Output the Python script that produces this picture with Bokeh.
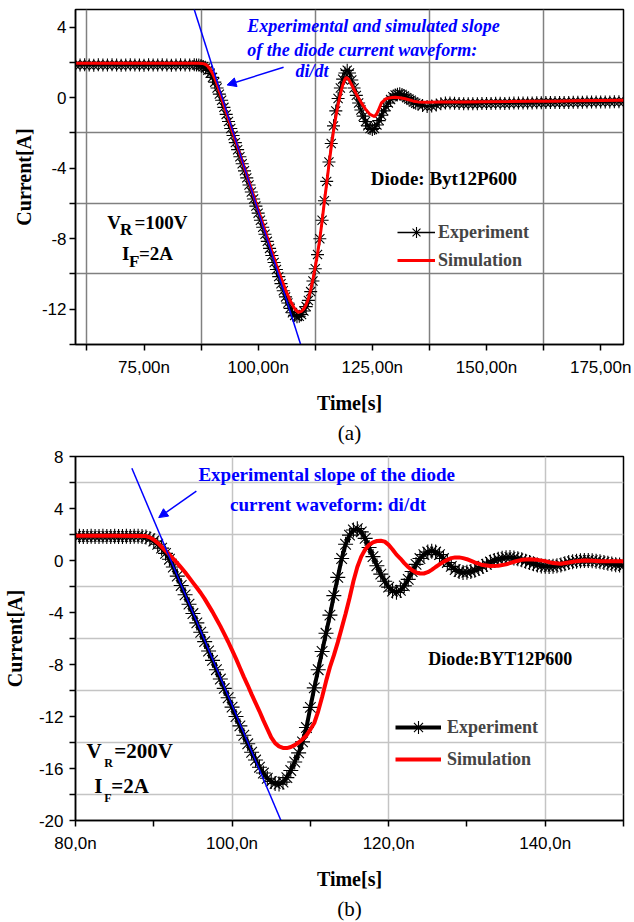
from bokeh.plotting import figure
from bokeh.models import FixedTicker, Range1d, Label, Arrow, NormalHead, Legend, LegendItem, Title
from bokeh.layouts import column
from bokeh.embed import file_html
from bokeh.resources import INLINE

# ================= DATA : panel (a)  V_R = 100 V =================
a_exp_t_flat = [60, 61, 62, 63, 64, 65, 66, 67, 68, 69, 70, 71, 72, 73, 74, 75, 76, 77, 78, 79,
                80, 81, 82, 83, 84, 85]
a_exp_i_flat = [1.86, 1.85, 1.86, 1.85, 1.84, 1.86, 1.85, 1.85, 1.86, 1.85, 1.84, 1.85, 1.86, 1.85,
                1.85, 1.84, 1.86, 1.85, 1.85, 1.86, 1.85, 1.84, 1.85, 1.86, 1.85, 1.85]
a_exp_t_mid = [86, 86.5, 87, 87.5, 88, 88.5, 89, 89.5, 90, 90.5,
               91, 91.5, 92, 92.5, 93, 93.5, 94, 94.5, 95, 95.5,
               96, 96.5, 97, 97.5, 98, 98.5, 99, 99.5, 100, 100.5,
               101, 101.5, 102, 102.5, 103, 103.5, 104, 104.5, 105, 105.5,
               106, 106.5, 107, 107.5, 108, 108.5, 109, 109.5, 110, 110.5,
               111, 111.5, 112, 112.5, 113, 113.5, 114, 114.5, 115, 115.5,
               116, 116.5, 117, 117.5, 118, 118.5, 119, 119.5, 120, 120.5,
               121, 121.5, 122, 122.5, 123, 123.5, 124, 124.5, 125, 125.5,
               126, 126.5, 127, 127.5, 128, 128.5, 129, 129.5, 130, 130.5,
               131, 131.5, 132, 132.5, 133, 133.5, 134, 134.5, 135]
a_exp_i_mid = [1.86, 1.85, 1.85, 1.82, 1.76, 1.68, 1.55, 1.38, 1.15, 0.88,
               0.55, 0.2, -0.15, -0.55, -0.95, -1.35, -1.75, -2.15, -2.55, -2.95,
               -3.35, -3.75, -4.15, -4.55, -4.95, -5.35, -5.75, -6.15, -6.55, -6.95,
               -7.35, -7.75, -8.15, -8.55, -8.95, -9.35, -9.75, -10.15, -10.55, -10.95,
               -11.3, -11.65, -11.95, -12.2, -12.35, -12.42, -12.4, -12.3, -12.1, -11.85,
               -11.5, -11.0, -10.4, -9.7, -8.9, -8.0, -6.95, -5.85, -4.75, -3.65,
               -2.6, -1.6, -0.75, -0.05, 0.55, 1.05, 1.4, 1.55, 1.4, 1.0,
               0.55, 0.13, -0.3, -0.7, -1.05, -1.35, -1.6, -1.75, -1.8, -1.75,
               -1.55, -1.3, -1.0, -0.75, -0.5, -0.3, -0.1, 0.05, 0.15, 0.2,
               0.22, 0.18, 0.1, 0.0, -0.08, -0.15, -0.25, -0.32, -0.38]
a_exp_t_tail = [136, 137, 138, 139, 140, 141, 142, 143, 144, 145, 146, 147, 148, 149, 150,
                151, 152, 153, 154, 155, 156, 157, 158, 159, 160, 161, 162, 163, 164, 165,
                166, 167, 168, 169, 170, 171, 172, 173, 174, 175, 176, 177, 178, 179, 180]
a_exp_i_tail = [-0.45, -0.5, -0.48, -0.42, -0.35, -0.3, -0.3, -0.32, -0.33, -0.35, -0.35, -0.35,
                -0.34, -0.33, -0.33, -0.33, -0.32, -0.32, -0.33, -0.32, -0.31, -0.31, -0.3, -0.3,
                -0.3, -0.29, -0.29, -0.28, -0.28, -0.28, -0.27, -0.27, -0.27, -0.26, -0.26, -0.26,
                -0.25, -0.25, -0.25, -0.24, -0.24, -0.24, -0.23, -0.23, -0.23]
a_sim_t = [60, 70, 80, 87, 87.5, 88, 88.5, 89, 89.5, 90, 90.5, 91, 92, 93, 94, 95, 96, 97, 98, 99,
           100, 101, 102, 103, 104, 105, 106, 107, 108, 108.8, 109.5, 110, 110.5, 111, 111.5, 112,
           112.5, 113, 113.5, 114, 114.5, 115, 115.5, 116, 116.5, 117, 117.5, 118, 118.5, 119,
           119.3, 119.8, 120.5, 121.5, 122.5, 123.5, 124.5, 125.5, 126, 126.5, 127, 128, 129, 130,
           131, 132, 133, 134, 135, 137, 140, 145, 150, 155, 160, 165, 170, 175, 180]
a_sim_i = [1.95, 1.95, 1.95, 1.95, 1.94, 1.93, 1.88, 1.78, 1.6, 1.38, 1.1, 0.76, -0.03, -0.82,
           -1.62, -2.4, -3.19, -3.98, -4.77, -5.56, -6.35, -7.14, -7.93, -8.72, -9.5, -10.22, -10.9,
           -11.5, -11.98, -12.18, -12.12, -11.98, -11.75, -11.4, -10.9, -10.3, -9.6, -8.85, -8.0,
           -7.0, -5.9, -4.87, -3.8, -2.8, -1.9, -1.1, -0.4, 0.2, 0.7, 1.05, 1.15, 1.05, 0.72, 0.2,
           -0.25, -0.65, -0.95, -1.07, -0.9, -0.6, -0.3, -0.06, 0.0, 0.02, 0.0, -0.05, -0.12, -0.2,
           -0.24, -0.26, -0.25, -0.25, -0.23, -0.22, -0.2, -0.2, -0.18, -0.16, -0.15]
a_slope_t = [86.0, 109.3]
a_slope_i = [5.0, -14.0]
a_x_ticks = [75, 100, 125, 150, 175]
a_x_labels = ["75,00n", "100,00n", "125,00n", "150,00n", "175,00n"]
a_x_minor = [62.5, 87.5, 112.5, 137.5, 162.5]
a_y_ticks = [4, 0, -4, -8, -12]
a_y_labels = ["4", "0", "-4", "-8", "-12"]
a_y_minor = [2, -2, -6, -10, -14]

# ================= DATA : panel (b)  V_R = 200 V =================
b_exp_t = [80, 80.5, 81, 81.5, 82, 82.5, 83, 83.5, 84, 84.5,
           85, 85.5, 86, 86.5, 87, 87.5, 88, 88.5, 89, 89.5,
           90, 90.5, 91, 91.5, 92, 92.5, 93, 93.5, 94, 94.5,
           95, 95.5, 96, 96.5, 97, 97.5, 98, 98.5, 99, 99.5,
           100, 100.5, 101, 101.5, 102, 102.5, 103, 103.5, 104, 104.5,
           105, 105.5, 106, 106.5, 107, 107.5, 108, 108.5, 109, 109.5,
           110, 110.5, 111, 111.5, 112, 112.5, 113, 113.5, 114, 114.5,
           115, 115.5, 116, 116.5, 117, 117.5, 118, 118.5, 119, 119.5,
           120, 120.5, 121, 121.5, 122, 122.5, 123, 123.5, 124, 124.5,
           125, 125.5, 126, 126.5, 127, 127.5, 128, 128.5, 129, 129.5,
           130, 130.5, 131, 131.5, 132, 132.5, 133, 133.5, 134, 134.5,
           135, 135.5, 136, 136.5, 137, 137.5, 138, 138.5, 139, 139.5,
           140, 140.5, 141, 141.5, 142, 142.5, 143, 143.5, 144, 144.5,
           145, 145.5, 146, 146.5, 147, 147.5, 148, 148.5, 149, 149.5,
           150]
b_exp_i = [1.85, 1.86, 1.84, 1.85, 1.86, 1.85, 1.84, 1.86, 1.85, 1.85,
           1.86, 1.84, 1.85, 1.86, 1.85, 1.86, 1.87, 1.85, 1.8, 1.68,
           1.5, 1.25, 0.95, 0.55, 0.1, -0.5, -1.2, -1.92, -2.64, -3.36,
           -4.08, -4.8, -5.52, -6.24, -6.96, -7.68, -8.4, -9.12, -9.84, -10.56,
           -11.28, -12.0, -12.72, -13.44, -14.1, -14.75, -15.35, -15.9, -16.35, -16.75,
           -17.0, -17.15, -17.2, -17.05, -16.7, -16.15, -15.5, -14.8, -13.95, -12.85,
           -11.3, -9.8, -8.4, -7.0, -5.6, -4.2, -2.7, -1.3, 0.15, 1.25,
           1.95, 2.35, 2.45, 2.2, 1.7, 1.0, 0.3, -0.4, -1.05, -1.6,
           -2.05, -2.35, -2.45, -2.3, -1.95, -1.45, -0.85, -0.3, 0.15, 0.45,
           0.65, 0.72, 0.65, 0.45, 0.15, -0.15, -0.45, -0.7, -0.85, -0.92,
           -0.9, -0.85, -0.75, -0.6, -0.45, -0.3, -0.12, 0.0, 0.1, 0.18,
           0.22, 0.23, 0.2, 0.13, 0.05, -0.05, -0.15, -0.25, -0.35, -0.42,
           -0.45, -0.47, -0.45, -0.4, -0.35, -0.25, -0.15, -0.1, -0.05, -0.02,
           0.0, 0.0, -0.02, -0.05, -0.1, -0.15, -0.22, -0.27, -0.32, -0.35,
           -0.38]
b_sim_t = [80, 85, 89, 89.5, 90, 90.5, 91, 91.5, 92, 92.5, 93, 93.5, 94, 94.5, 95, 95.5, 96, 96.5,
           97, 97.5, 98, 98.5, 99, 99.5, 100, 100.5, 101, 101.5, 102, 102.5, 103, 103.5, 104, 104.5,
           105, 105.5, 106, 106.5, 107, 107.5, 108, 108.5, 109, 109.5, 110, 110.5, 111, 111.5, 112,
           112.5, 113, 113.5, 114, 114.5, 115, 115.5, 116, 116.5, 117, 117.5, 118, 118.5, 119,
           119.5, 120, 120.5, 121, 121.5, 122, 122.5, 123, 123.5, 124, 124.5, 125, 125.5, 126,
           126.5, 127, 127.5, 128, 128.5, 129, 129.5, 130, 131, 132, 133, 134, 135, 136, 137, 138,
           139, 140, 141, 142, 143, 144, 145, 146, 147, 148, 149, 150]
b_sim_i = [1.9, 1.9, 1.88, 1.78, 1.6, 1.35, 1.05, 0.75, 0.45, 0.12, -0.2, -0.55, -0.9, -1.3, -1.7,
           -2.1, -2.5, -2.95, -3.45, -3.95, -4.5, -5.05, -5.65, -6.25, -6.9, -7.55, -8.25, -8.95,
           -9.6, -10.3, -10.95, -11.6, -12.3, -12.95, -13.6, -14.05, -14.3, -14.42, -14.43, -14.35,
           -14.2, -14.0, -13.75, -13.45, -13.0, -12.5, -11.6, -10.5, -9.3, -8.2, -7.3, -6.3, -5.2,
           -4.1, -2.9, -1.6, -0.5, 0.3, 0.85, 1.2, 1.4, 1.5, 1.52, 1.45, 1.2, 0.85, 0.45, 0.15,
           -0.2, -0.5, -0.75, -0.92, -1.0, -1.0, -0.9, -0.72, -0.5, -0.3, -0.1, 0.05, 0.18, 0.24,
           0.24, 0.18, 0.1, -0.15, -0.35, -0.42, -0.4, -0.3, -0.1, 0.05, 0.1, 0.05, -0.05, -0.2,
           -0.25, -0.15, -0.05, 0.0, -0.02, -0.05, -0.05, -0.05, -0.05]
b_slope_t = [87.2, 106.24]
b_slope_i = [7.09, -20.0]
b_x_ticks = [80, 100, 120, 140]
b_x_labels = ["80,0n", "100,0n", "120,0n", "140,0n"]
b_x_minor = [90, 110, 130, 150]
b_y_ticks = [8, 4, 0, -4, -8, -12, -16, -20]
b_y_labels = ["8", "4", "0", "-4", "-8", "-12", "-16", "-20"]
b_y_minor = [6, 2, -2, -6, -10, -14, -18]

for _n, (_t, _v) in {"a_flat": (a_exp_t_flat, a_exp_i_flat), "a_mid": (a_exp_t_mid, a_exp_i_mid),
                     "a_tail": (a_exp_t_tail, a_exp_i_tail), "a_sim": (a_sim_t, a_sim_i),
                     "b_exp": (b_exp_t, b_exp_i), "b_sim": (b_sim_t, b_sim_i)}.items():
    if len(_t) != len(_v):
        print("length mismatch", _n, len(_t), len(_v))

a_exp_t = a_exp_t_flat + a_exp_t_mid + a_exp_t_tail
a_exp_i = a_exp_i_flat + a_exp_i_mid + a_exp_i_tail

# ================= STYLE =================
SERIF = "Liberation Serif"
SANS = "Liberation Sans"
BLUE = "#0000ff"
RED = "#ff0000"


def style_axes(p, xt, xl, xm, yt, yl, ym, tick_size, lab_size, y_std):
    xtick = FixedTicker(ticks=xt, minor_ticks=xm)
    ytick = FixedTicker(ticks=yt, minor_ticks=ym)
    p.xaxis.ticker = xtick
    p.yaxis.ticker = ytick
    p.xgrid.ticker = xtick
    p.ygrid.ticker = ytick
    p.xaxis.major_label_overrides = {k: v for k, v in zip(xt, xl)}
    p.yaxis.major_label_overrides = {k: v for k, v in zip(yt, yl)}
    for ax in (p.xaxis[0], p.yaxis[0]):
        ax.axis_line_width = 1.5
        ax.axis_line_color = "black"
        ax.major_tick_out = 6
        ax.major_tick_in = 0
        ax.minor_tick_out = 6
        ax.minor_tick_in = 0
        ax.major_tick_line_width = 1.5
        ax.minor_tick_line_width = 1.5
        ax.major_tick_line_color = "black"
        ax.minor_tick_line_color = "black"
        ax.major_label_text_font = SANS
        ax.major_label_text_font_size = tick_size
        ax.major_label_text_color = "black"
        ax.axis_label_text_font = SERIF
        ax.axis_label_text_font_style = "bold"
        ax.axis_label_text_font_size = lab_size
        ax.axis_label_text_color = "black"
    p.xaxis.major_label_standoff = 7
    p.yaxis.major_label_standoff = 3
    p.xaxis.axis_label_standoff = 12
    p.yaxis.axis_label_standoff = y_std
    p.outline_line_color = "black"
    p.outline_line_width = 1.5
    p.outline_line_alpha = 1.0


def lab(p, x, y, text, size, style="bold", color="black"):
    p.add_layout(Label(x=x, y=y, text=text, text_font=SERIF, text_font_style=style,
                       text_font_size=size, text_color=color, text_baseline="middle",
                       text_align="left"))


# ---------------- panel (a) ----------------
pa = figure(width=634, height=446, x_range=Range1d(60, 180), y_range=Range1d(-14, 5),
            output_backend="svg", toolbar_location=None,
            min_border_left=70, min_border_right=11, min_border_top=9, min_border_bottom=96,
            x_axis_label="Time[s]", y_axis_label="Current[A]")
pa.background_fill_color = "white"
pa.border_fill_color = "white"
style_axes(pa, a_x_ticks, a_x_labels, a_x_minor, a_y_ticks, a_y_labels, a_y_minor,
           "17px", "20px", 4)
for g in (pa.xgrid[0], pa.ygrid[0]):
    g.grid_line_color = None
    g.minor_grid_line_color = "#808080"
    g.minor_grid_line_width = 1.5

ra_pts = pa.scatter(a_exp_t, a_exp_i, marker="asterisk", size=13, line_color="black",
                    line_width=1.1)
ra_line = pa.line(a_exp_t, a_exp_i, line_color="black", line_width=1.5)
ra_sim = pa.line(a_sim_t, a_sim_i, line_color=RED, line_width=3)
pa.line(a_slope_t, a_slope_i, line_color=BLUE, line_width=1.5)

leg_a = Legend(items=[LegendItem(label="Experiment", renderers=[ra_line, ra_pts]),
                      LegendItem(label="Simulation", renderers=[ra_sim])],
               location=(322, 70), orientation="vertical", background_fill_alpha=0,
               border_line_alpha=0, padding=0, margin=0, spacing=-4, glyph_width=38,
               glyph_height=28, label_height=28, label_standoff=3, label_text_font=SERIF,
               label_text_font_style="bold", label_text_font_size="18px")
pa.add_layout(leg_a)

lab(pa, 97.6, 4.06, "Experimental and simulated slope", "18px", "bold italic", BLUE)
lab(pa, 97.6, 2.72, "of the diode current waveform:", "18px", "bold italic", BLUE)
lab(pa, 108.2, 1.5, "di/dt", "18px", "bold italic", BLUE)
pa.add_layout(Arrow(end=NormalHead(size=9, fill_color=BLUE, line_color=BLUE, line_width=1),
                    x_start=105.57, y_start=1.72, x_end=93.2, y_end=0.72,
                    line_color=BLUE, line_width=1.5))
lab(pa, 124.67, -4.59, "Diode: Byt12P600", "19px")
lab(pa, 66.94, -7.06, "V", "19px")
lab(pa, 69.77, -7.5, "R", "17px")
lab(pa, 72.9, -7.06, "=100V", "19px")
lab(pa, 70.2, -8.86, "I", "19px")
lab(pa, 71.72, -9.31, "F", "17px")
lab(pa, 73.89, -8.86, "=2A", "19px")
pa.add_layout(Title(text="(a)", align="center", text_font=SERIF, text_font_style="normal",
                    text_font_size="21px", text_color="black", standoff=4), "below")

# ---------------- panel (b) ----------------
pb = figure(width=634, height=476, x_range=Range1d(80, 150), y_range=Range1d(-20, 8),
            output_backend="svg", toolbar_location=None,
            min_border_left=71, min_border_right=11, min_border_top=10, min_border_bottom=97,
            x_axis_label="Time[s]", y_axis_label="Current[A]")
pb.background_fill_color = "white"
pb.border_fill_color = "white"
style_axes(pb, b_x_ticks, b_x_labels, b_x_minor, b_y_ticks, b_y_labels, b_y_minor,
           "17px", "20px", 10)
pb.yaxis.major_label_standoff = 6
pb.xgrid.grid_line_color = "#c4c4c4"
pb.xgrid.grid_line_width = 1.5
pb.xgrid.minor_grid_line_color = None
pb.ygrid.grid_line_color = None
pb.ygrid.minor_grid_line_color = "#c4c4c4"
pb.ygrid.minor_grid_line_width = 1.5

rb_pts = pb.scatter(b_exp_t, b_exp_i, marker="asterisk", size=15, line_color="black",
                    line_width=1.1)
rb_line = pb.line(b_exp_t, b_exp_i, line_color="black", line_width=4)
rb_sim = pb.line(b_sim_t, b_sim_i, line_color=RED, line_width=4)
pb.line(b_slope_t, b_slope_i, line_color=BLUE, line_width=1.5)

leg_b = Legend(items=[LegendItem(label="Experiment", renderers=[rb_line, rb_pts]),
                      LegendItem(label="Simulation", renderers=[rb_sim])],
               location=(320, 45), orientation="vertical", background_fill_alpha=0,
               border_line_alpha=0, padding=0, margin=0, spacing=-5, glyph_width=46,
               glyph_height=32, label_height=32, label_standoff=6, label_text_font=SERIF,
               label_text_font_style="bold", label_text_font_size="18px")
pb.add_layout(leg_b)

lab(pb, 95.7, 6.63, "Experimental slope of the diode", "19px", "bold", BLUE)
lab(pb, 99.75, 4.28, "current waveform: di/dt", "19px", "bold", BLUE)
pb.add_layout(Arrow(end=NormalHead(size=9, fill_color=BLUE, line_color=BLUE, line_width=1),
                    x_start=95.44, y_start=5.34, x_end=90.63, y_end=3.30,
                    line_color=BLUE, line_width=1.5))
lab(pb, 125.06, -7.55, "Diode:BYT12P600", "18px")
lab(pb, 81.39, -14.69, "V", "21px")
lab(pb, 83.67, -15.6, "R", "12px")
lab(pb, 84.94, -14.69, "=200V", "21px")
lab(pb, 82.41, -17.34, "I", "21px")
lab(pb, 83.67, -18.25, "F", "12px")
lab(pb, 84.56, -17.34, "=2A", "21px")
pb.add_layout(Title(text="(b)", align="center", text_font=SERIF, text_font_style="normal",
                    text_font_size="21px", text_color="black", standoff=4), "below")

layout = column(pa, pb, spacing=0)
open("out.html", "w").write(file_html(layout, INLINE))
